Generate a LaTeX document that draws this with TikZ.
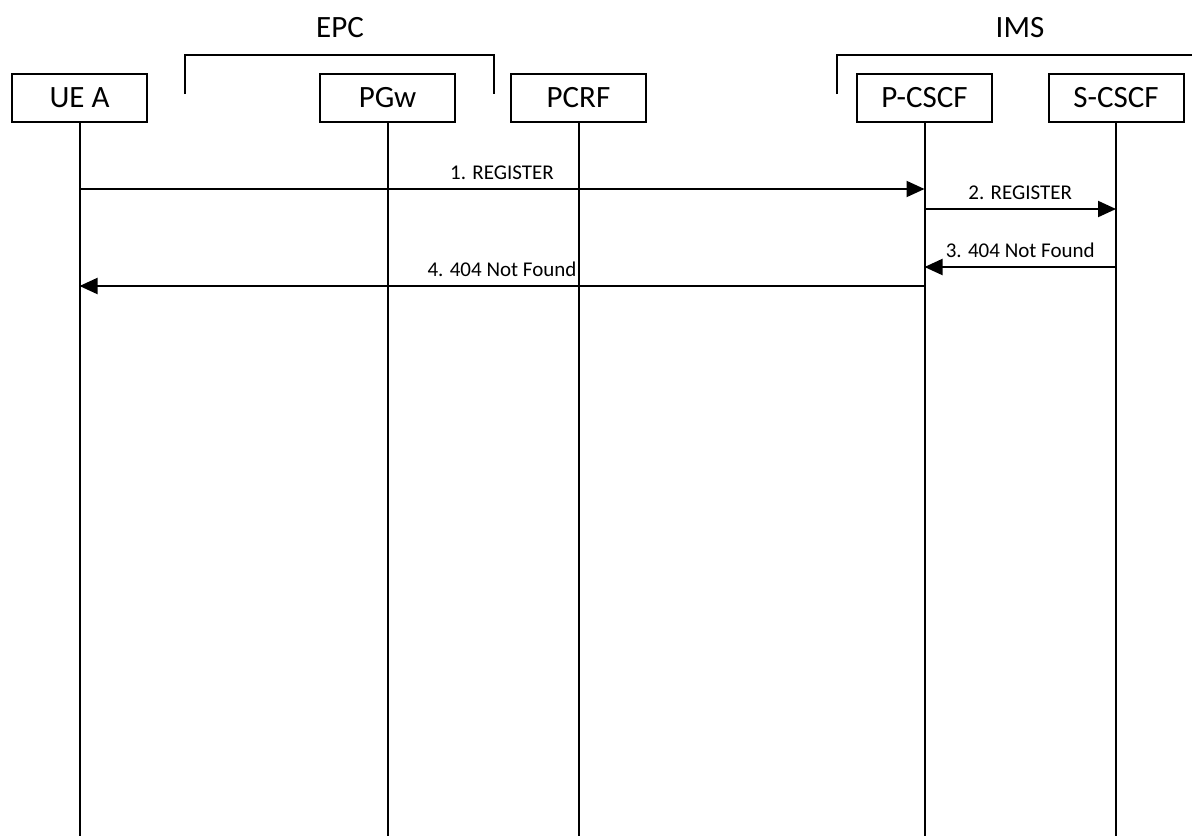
\documentclass[tikz,border=0pt]{standalone}
\usepackage{fontspec}
\setmainfont{Carlito}
\usetikzlibrary{arrows.meta}

\begin{document}
\begin{tikzpicture}[x = 0.5pt, y = -0.5pt,
                   entity/.style     = {shape          = rectangle,
                                        draw,
                                        line width     = 1pt,
                                        minimum width  = 67.5pt,
                                        minimum height = 24pt,
                                        inner sep      = 0pt,
                                        font           = \fontsize{15.5}{18}\selectfont},
                   group/.style      = {font = \fontsize{15.5}{18}\selectfont},
                   life line/.style  = {line width = 1pt},
                   bracket/.style    = {line width = 1pt},
                   msg/.style        = {-{Triangle[length=9pt, width=8pt]},
                                        line width = 1pt},
                   msg label/.style  = {above = 1pt,
                                        inner sep = 3pt,
                                        font = \fontsize{10.5}{12}\selectfont}]

\useasboundingbox (0,0) rectangle (1192,836);

% the entities
\node[entity](ue)    at (79.5, 98) {UE A};
\node[entity](pgw)   at (387.5,98) {PGw};
\node[entity](pcrf)  at (578.5,98) {PCRF};
\node[entity](pcscf) at (924.5,98) {P-CSCF};
\node[entity](scscf) at (1116, 98) {S-CSCF};

% the groups
\node[group](epc) at (340, 28) {EPC};
\node[group](ims) at (1020,28) {IMS};
\draw[bracket] (185,94) -- (185,55) -- (494,55) -- (494,94);
\draw[bracket] (837,94) -- (837,55) -- (1192,55);

% life lines
\coordinate (bottom) at (0,836);
\foreach \e in {ue,pgw,pcrf,pcscf,scscf}
  { \draw[life line] (\e.south) -- (\e |- bottom); }

% message heights
\coordinate (m1) at (0,189);
\coordinate (m2) at (0,209);
\coordinate (m3) at (0,267);
\coordinate (m4) at (0,286);

% messages
\draw[msg] (ue |- m1)    -- node[msg label] {1. REGISTER}      (pcscf |- m1);
\draw[msg] (pcscf |- m2) -- node[msg label] {2. REGISTER}      (scscf |- m2);
\draw[msg] (scscf |- m3) -- node[msg label] {3. 404 Not Found} (pcscf |- m3);
\draw[msg] (pcscf |- m4) -- node[msg label] {4. 404 Not Found} (ue |- m4);
\end{tikzpicture}
\end{document}
